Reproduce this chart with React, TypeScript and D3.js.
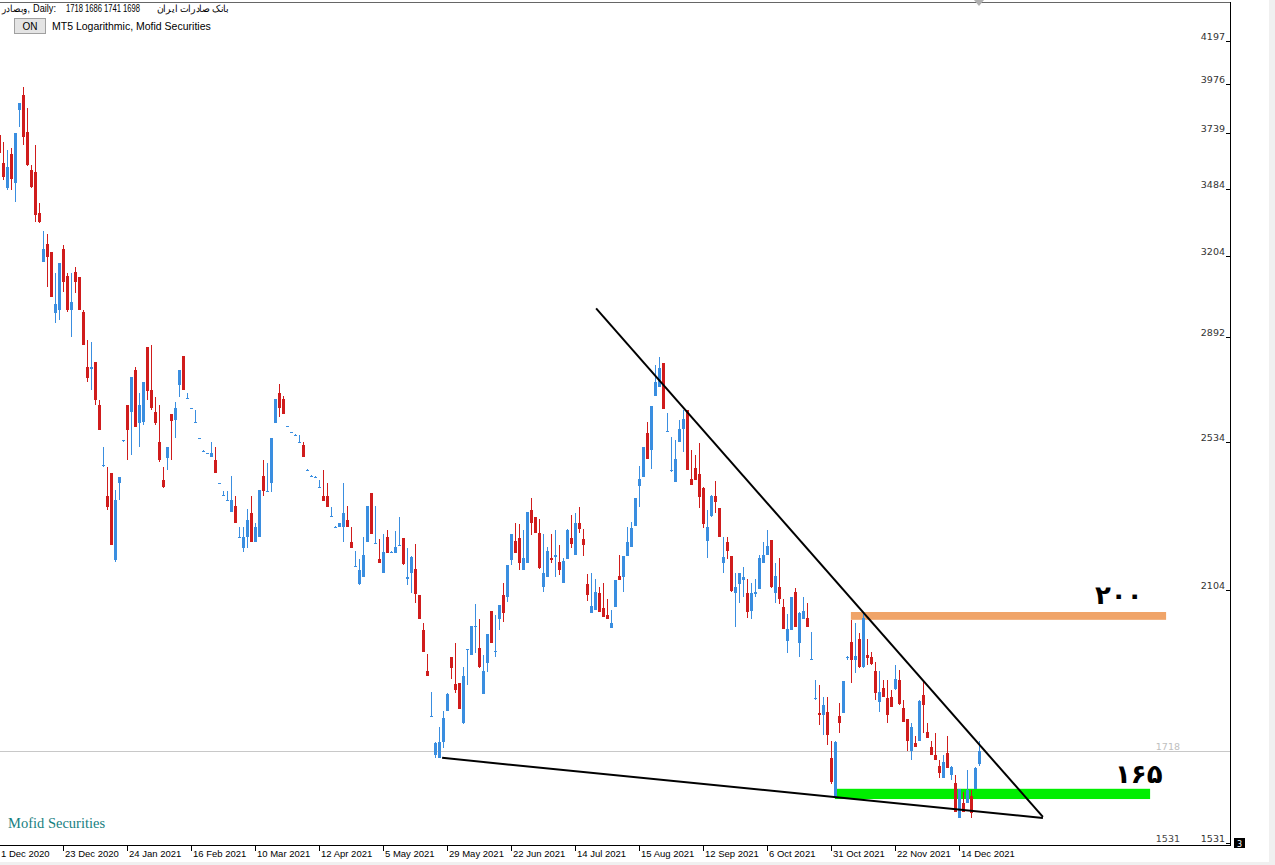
import React from 'react';
import * as d3 from 'd3';

// ---- Daily candles (Bank Saderat, log scale) ----
const OPEN = [3729,3601,3489,3642,3511,3848,3921,3743,3569,3560,3381,3179,3252,3219,2981,2992,3231,3124,2992,3139,3120,2985,2785,2780,2803,2655,2460,2369,2438,2185,2408,2536,2655,2632,2775,2596,2599,2857,2706,2632,2535,2417,2484,2626,2606,2723,2824,2678,2644,2601,2548,2507,2500,2487,2478,2408,2370,2358,2321,2339,2250,2219,2250,2318,2235,2250,2429,2382,2408,2596,2696,2675,2587,2567,2558,2535,2525,2448,2430,2427,2396,2369,2369,2310,2279,2278,2278,2298,2235,2169,2120,2139,2235,2378,2233,2188,2150,2250,2208,2205,2228,2247,2134,2150,2161,2091,2001,1901,1797,1710,1704,1739,1808,1934,1870,1872,1780,1953,1940,2011,1957,1847,1920,2049,1950,2029,2091,2086,2185,2238,2247,2158,2177,2327,2307,2261,2112,2139,2191,2194,2180,2123,2188,2247,2199,2289,2244,2120,2045,2052,2096,2057,2040,2006,2060,2142,2139,2196,2222,2281,2399,2426,2563,2509,2686,2716,2799,2570,2448,2411,2535,2576,2639,2420,2453,2435,2393,2238,2309,2369,2333,2177,2235,2196,2096,2120,2131,2096,2050,2094,2107,2177,2199,2241,2096,2112,2060,1974,2001,2099,1969,2029,2032,1930,1838,1803,1799,1806,1704,1622,1796,1803,1934,1971,1927,1979,1910,1940,1934,1901,1829,1861,1838,1840,1858,1879,1815,1789,1719,1737,1741,1845,1761,1728,1711,1687,1663,1715,1668,1651,1580,1610,1610,1624,1639,1690];
const HIGH = [3753,3697,3660,3669,3739,3882,3961,3858,3591,3683,3424,3305,3293,3219,3135,3175,3248,3135,3135,3159,3120,2992,2882,2875,2803,2672,2519,2456,2438,2386,2426,2541,2655,2750,2785,2696,2733,2857,2864,2682,2655,2456,2519,2626,2665,2775,2824,2696,2647,2639,2549,2508,2501,2535,2519,2409,2383,2383,2429,2369,2278,2278,2330,2369,2289,2386,2478,2468,2547,2675,2726,2686,2588,2568,2559,2557,2535,2449,2431,2428,2417,2447,2408,2336,2280,2290,2408,2339,2278,2210,2188,2250,2339,2378,2339,2244,2258,2270,2209,2267,2307,2247,2219,2195,2230,2091,2019,1942,1851,1738,1772,1808,1848,1935,1969,1873,1910,1954,2012,2068,2029,1940,1992,2050,2040,2066,2123,2172,2259,2289,2287,2270,2322,2363,2307,2301,2258,2222,2258,2270,2227,2191,2271,2313,2318,2336,2273,2147,2150,2134,2112,2123,2081,2052,2132,2199,2197,2278,2292,2364,2459,2520,2600,2653,2792,2821,2800,2629,2551,2541,2606,2639,2640,2509,2493,2532,2394,2327,2370,2414,2334,2250,2250,2197,2150,2150,2166,2134,2123,2134,2199,2235,2270,2242,2177,2191,2081,2042,2087,2109,2046,2086,2070,1996,1879,1867,1840,1840,1741,1740,1826,1878,1936,2027,2019,1994,2045,1979,1947,1922,1901,1879,1879,1856,1915,1903,1833,1790,1780,1752,1832,1879,1780,1741,1759,1700,1711,1752,1686,1668,1639,1633,1678,1637,1684,1741];
const LOW = [3623,3524,3480,3480,3428,3767,3683,3587,3489,3343,3339,3179,3081,3042,2944,2955,3061,2985,2893,3057,2992,2864,2733,2706,2655,2573,2457,2327,2227,2180,2357,2535,2478,2493,2583,2519,2590,2672,2639,2590,2472,2392,2447,2478,2547,2682,2706,2676,2643,2598,2545,2504,2498,2486,2437,2406,2368,2356,2320,2288,2248,2208,2219,2234,2234,2250,2369,2380,2380,2596,2616,2625,2585,2565,2556,2533,2486,2446,2428,2425,2394,2353,2335,2308,2277,2277,2235,2277,2218,2166,2119,2138,2234,2257,2230,2176,2149,2204,2206,2204,2226,2173,2117,2096,2070,2029,1946,1888,1795,1704,1703,1726,1807,1881,1849,1811,1779,1868,1939,1945,1909,1846,1898,1968,1935,2001,2022,2073,2171,2204,2158,2157,2176,2255,2260,2162,2099,2138,2177,2139,2145,2122,2187,2219,2198,2261,2196,2075,2044,2051,2046,2034,2028,2005,2059,2130,2099,2195,2221,2280,2336,2425,2480,2450,2685,2715,2641,2567,2441,2410,2534,2503,2446,2401,2416,2333,2275,2191,2308,2318,2249,2150,2188,2100,2009,2070,2086,2032,2029,2086,2106,2176,2198,2111,2070,2068,2003,1945,2000,2008,1934,2028,2008,1927,1833,1776,1754,1732,1649,1622,1759,1802,1927,1872,1896,1909,1909,1915,1916,1833,1805,1839,1780,1816,1856,1821,1782,1719,1700,1727,1740,1759,1747,1710,1699,1661,1662,1682,1657,1591,1579,1591,1609,1580,1638,1686];
const CLOSE = [3646,3537,3583,3528,3739,3882,3720,3591,3493,3372,3343,3231,3199,3042,3015,3175,3100,2992,3022,3100,2992,2864,2747,2786,2672,2573,2462,2336,2227,2357,2426,2540,2573,2750,2583,2655,2733,2703,2645,2596,2478,2395,2519,2603,2645,2775,2706,2680,2646,2599,2546,2505,2499,2500,2438,2407,2369,2357,2357,2289,2249,2250,2298,2235,2278,2386,2383,2384,2547,2675,2645,2626,2586,2566,2557,2534,2487,2447,2429,2426,2395,2354,2336,2309,2278,2289,2318,2278,2219,2168,2158,2199,2339,2258,2232,2177,2207,2205,2207,2222,2227,2174,2139,2194,2094,2030,1947,1889,1796,1737,1739,1792,1847,1908,1856,1812,1889,1951,2011,2012,1910,1901,1991,1969,1949,2065,2045,2171,2258,2205,2177,2191,2321,2289,2261,2163,2150,2210,2185,2199,2158,2182,2270,2230,2289,2273,2227,2091,2062,2099,2047,2035,2029,2019,2131,2131,2196,2235,2276,2363,2420,2519,2481,2652,2733,2782,2642,2569,2447,2481,2576,2609,2447,2402,2417,2366,2286,2278,2369,2351,2250,2194,2210,2101,2112,2150,2139,2047,2096,2099,2191,2199,2224,2112,2142,2081,2004,2004,2086,2009,2045,2050,2009,1929,1837,1799,1821,1754,1653,1739,1781,1877,1935,1927,1937,1910,2032,1932,1917,1849,1851,1840,1799,1817,1881,1822,1783,1741,1771,1728,1831,1822,1748,1711,1700,1672,1696,1683,1685,1592,1639,1592,1637,1590,1683,1718];

const DATE_LABELS = ['1 Dec 2020','23 Dec 2020','24 Jan 2021','16 Feb 2021','10 Mar 2021','12 Apr 2021','5 May 2021','29 May 2021','22 Jun 2021','14 Jul 2021','15 Aug 2021','12 Sep 2021','6 Oct 2021','31 Oct 2021','22 Nov 2021','14 Dec 2021'];
const DATE_BARS = [0,16,32,48,64,80,96,112,128,144,160,176,192,208,224,240];
const PRICE_TICKS = [4197,3976,3739,3484,3204,2892,2534,2104,1531];
const HEADER_VALUES = [1718,1686,1741,1698];
const BID_PRICE = 1718;
const LOW_PRICE = 1531;

// annotations: [bar, price]
const UPPER_TREND = [[149.2,2999],[260.9,1582]];
const LOWER_TREND = [[110.7,1704],[260.9,1580]];
const ZONE_200 = [212.9,291.7,2047,2027];
const ZONE_165 = [208.9,287.7,1639,1618];
const LABEL_200 = [273.9,2068];
const LABEL_165 = [278.9,1651];

const BLUE = '#3a8ee0';
const RED = '#d01c1c';

export default function App() {
  const x = d3.scaleLinear().domain([0, 245]).range([-0.7, 979.3]);
  const y = d3.scaleLog().domain([1531, 4197]).range([843, 41]);
  const line = d3.line<number[]>().x(d => x(d[0])).y(d => y(d[1]));

  const candles = OPEN.map((o, i) => {
    const c = CLOSE[i], h = HIGH[i], l = LOW[i];
    const cx = Math.round(x(i));
    const yTop = y(Math.max(o, c));
    const yBot = y(Math.min(o, c));
    const bh = Math.max(1, Math.round(yBot - yTop));
    const doji = yBot - yTop < 1.5;
    const col = doji ? BLUE : (c >= o ? BLUE : RED);
    return (
      <g key={i} fill={col}>
        <rect x={cx} y={Math.round(y(h))} width={1} height={Math.max(1, Math.round(y(l)) - Math.round(y(h)))} />
        <rect x={cx - 1} y={Math.round(yTop)} width={3} height={bh} />
      </g>
    );
  });

  const fontAxis = '"DejaVu Sans", Verdana, sans-serif';
  const fontUi = '"Liberation Sans", Arial, sans-serif';

  return (
    <svg width={1275} height={865} style={{ position: 'absolute', left: 0, top: 0, background: '#fff' }}>
      <rect x={1269} y={0} width={6} height={865} fill="#f0f0f0" />
      <rect x={0} y={862} width={1275} height={3} fill="#f0f0f0" />
      {/* bid line */}
      <line x1={0} x2={1230} y1={Math.round(y(BID_PRICE)) + 0.5} y2={Math.round(y(BID_PRICE)) + 0.5} stroke="#c8c8c8" />
      {/* zones */}
      <rect x={x(ZONE_200[0])} y={y(ZONE_200[2])} width={x(ZONE_200[1]) - x(ZONE_200[0])} height={y(ZONE_200[3]) - y(ZONE_200[2])} fill="#f0a468" />
      <rect x={x(ZONE_165[0])} y={y(ZONE_165[2])} width={x(ZONE_165[1]) - x(ZONE_165[0])} height={y(ZONE_165[3]) - y(ZONE_165[2])} fill="#00ee00" />
      <g shapeRendering="crispEdges">{candles}</g>
      {/* trend lines */}
      <path d={line(UPPER_TREND) || ''} stroke="#000" strokeWidth={2} fill="none" />
      <path d={line(LOWER_TREND) || ''} stroke="#000" strokeWidth={2} fill="none" />
      <text x={x(LABEL_200[0])} y={y(LABEL_200[1])} fontFamily='"DejaVu Sans", sans-serif' fontWeight="bold" fontSize={26} fill="#000">۲۰۰</text>
      <text x={x(LABEL_165[0])} y={y(LABEL_165[1])} fontFamily='"DejaVu Sans", sans-serif' fontWeight="bold" fontSize={26} fill="#000">۱۶۵</text>

      {/* frame */}
      <g shapeRendering="crispEdges" stroke="#000">
        <line x1={0} x2={1231} y1={2.5} y2={2.5} stroke="#666" />
        <line x1={1230.5} x2={1230.5} y1={2} y2={846} />
        <line x1={0} x2={1231} y1={845.5} y2={845.5} />
      </g>
      <polygon points="974,0 984,0 979,6" fill="#b0b0b0" />

      {/* price axis */}
      {PRICE_TICKS.map(v => (
        <g key={v}>
          <line x1={1226} x2={1230} y1={Math.round(y(v)) + 0.5} y2={Math.round(y(v)) + 0.5} stroke="#000" shapeRendering="crispEdges" />
          <text x={1225} y={y(v) - 1} textAnchor="end" fontFamily={fontAxis} fontSize={9.5} fill="#333">{v}</text>
        </g>
      ))}
      <text x={1180} y={y(BID_PRICE) - 1} textAnchor="end" fontFamily={fontAxis} fontSize={9.5} fill="#c0c0c0">{BID_PRICE}</text>
      <text x={1180} y={y(LOW_PRICE) - 1} textAnchor="end" fontFamily={fontAxis} fontSize={9.5} fill="#444">{LOW_PRICE}</text>
      <rect x={1234} y={838} width={11} height={10} fill="#000" />
      <text x={1239.5} y={846.5} textAnchor="middle" fontFamily={fontAxis} fontSize={8} fill="#fff">3</text>

      {/* date axis */}
      {DATE_BARS.map((b, k) => {
        const tx = Math.round(x(b)) + 0.5;
        return (
          <g key={b}>
            <line x1={tx} x2={tx} y1={846} y2={851} stroke="#000" shapeRendering="crispEdges" />
            <text x={Math.max(1, tx + 1.5)} y={857} fontFamily={fontUi} fontSize={9.5} fill="#000">{DATE_LABELS[k]}</text>
          </g>
        );
      })}

      {/* header */}
      <text x={2} y={12} fontFamily={fontUi} fontSize={10} textLength={28} lengthAdjust="spacingAndGlyphs" fill="#000">وبصادر,</text>
      <text x={33} y={12} fontFamily={fontUi} fontSize={10} textLength={23} lengthAdjust="spacingAndGlyphs" fill="#000">Daily:</text>
      <text x={66} y={12} fontFamily={fontUi} fontSize={10} textLength={74} lengthAdjust="spacingAndGlyphs" fill="#000">{HEADER_VALUES.join(' ')}</text>
      <text x={157} y={12} fontFamily={fontUi} fontSize={10} textLength={72} lengthAdjust="spacingAndGlyphs" fill="#000">بانک صادرات ایران</text>
      <rect x={14.5} y={18.5} width={31} height={15} fill="#e4e4e4" stroke="#a0a0a0" />
      <text x={30} y={30} textAnchor="middle" fontFamily={fontUi} fontSize={10} fill="#000">ON</text>
      <text x={52} y={30} fontFamily={fontUi} fontSize={10.5} fill="#000">MT5 Logarithmic, Mofid Securities</text>

      <text x={8} y={828} fontFamily='"Liberation Serif", "Times New Roman", serif' fontSize={14.5} fill="#17807f">Mofid Securities</text>
    </svg>
  );
}
